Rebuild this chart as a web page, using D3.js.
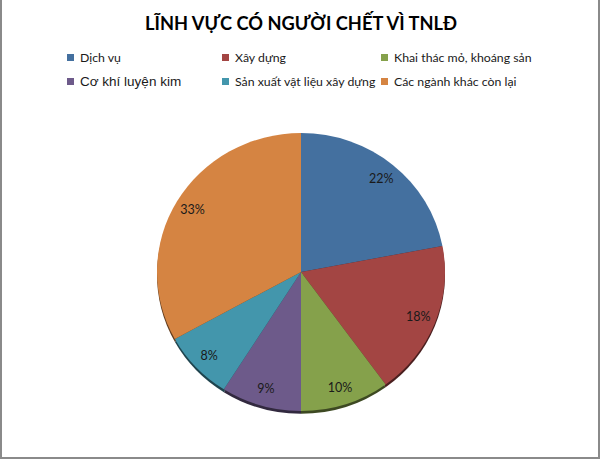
<!DOCTYPE html>
<html lang="vi">
<head>
  <meta charset="UTF-8" />
  <title>Lĩnh vực có người chết vì TNLĐ</title>
  <style>
    body { margin: 0; background: #fff; }
    svg { display: block; }
  </style>
</head>
<body>
  <svg width="601" height="460"></svg>

  <script src="https://d3js.org/d3.v7.min.js"></script>

  <script>
    // Chart data
    const title = 'LĨNH VỰC CÓ NGƯỜI CHẾT VÌ TNLĐ';
    const categories = [
      'Dịch vụ', 'Xây dựng', 'Khai thác mỏ, khoáng sản',
      'Cơ khí luyện kim', 'Sản xuất vật liệu xây dựng', 'Các ngành khác còn lại'
    ];
    const values = [22, 18, 10, 9, 8, 33];
    const colors = ['#44709f', '#a34543', '#85a14b', '#6d5a8a', '#4396ac', '#d58442'];

    const svg = d3.select('svg');

    // outer frame
    svg.append('rect')
      .attr('x', 1).attr('y', -2)
      .attr('width', 598).attr('height', 460)
      .attr('fill', 'none')
      .attr('stroke', '#8a8a8a')
      .attr('stroke-width', 2);

    svg.append('text')
      .attr('x', 301).attr('y', 30)
      .attr('text-anchor', 'middle')
      .attr('font-family', 'Lato, sans-serif')
      .attr('font-weight', 'bold')
      .attr('font-size', 19)
      .attr('textLength', 312)
      .attr('lengthAdjust', 'spacingAndGlyphs')
      .attr('fill', '#000')
      .text(title);

    // legend: 3 columns, 2 rows
    const colX = d3.scaleOrdinal().domain([0, 1, 2]).range([67, 222, 381]);
    const rowY = d3.scaleOrdinal().domain([0, 1]).range([58, 82]);
    const legend = svg.append('g').selectAll('g')
      .data(categories)
      .enter().append('g')
      .attr('transform', (d, i) => `translate(${colX(i % 3)},${rowY(Math.floor(i / 3))})`);
    legend.append('rect')
      .attr('x', 0).attr('y', -4)
      .attr('width', 7).attr('height', 7)
      .attr('fill', (d, i) => colors[i]);
    legend.append('text')
      .attr('x', 13).attr('y', 4)
      .attr('font-family', d => d === 'Cơ khí luyện kim' ? '"Liberation Sans", Arial, sans-serif' : 'Lato, sans-serif')
      .attr('font-size', d => d === 'Cơ khí luyện kim' ? 13.5 : 12.3)
      .attr('fill', '#1a1a1a')
      .text(d => d);

    // pie
    const cx = 301, cy = 272, r = 144;
    const pie = d3.pie().sort(null).value(d => d);
    const arcs = pie(values);
    const arc = d3.arc().innerRadius(0).outerRadius(r);
    const labelArc = d3.arc().innerRadius(126).outerRadius(126);

    const g = svg.append('g')
      .attr('transform', `translate(${cx},${cy}) scale(1,0.965)`);

    // soft shadow under the pie
    g.append('g')
      .attr('transform', 'translate(0,3)')
      .selectAll('path')
      .data(arcs)
      .enter().append('path')
      .attr('d', arc)
      .attr('fill', (d, i) => d3.color(colors[i]).darker(2.2));

    g.append('g')
      .selectAll('path')
      .data(arcs)
      .enter().append('path')
      .attr('d', arc)
      .attr('fill', (d, i) => colors[i]);

    g.append('g')
      .selectAll('text')
      .data(arcs)
      .enter().append('text')
      .attr('transform', d => `translate(${labelArc.centroid(d)}) scale(1,${1 / 0.965})`)
      .attr('text-anchor', 'middle')
      .attr('dy', '0.35em')
      .attr('font-family', 'Lato, sans-serif')
      .attr('font-size', 12.5)
      .attr('fill', '#1a1a1a')
      .text(d => d.data + '%');
  </script>
</body>
</html>
